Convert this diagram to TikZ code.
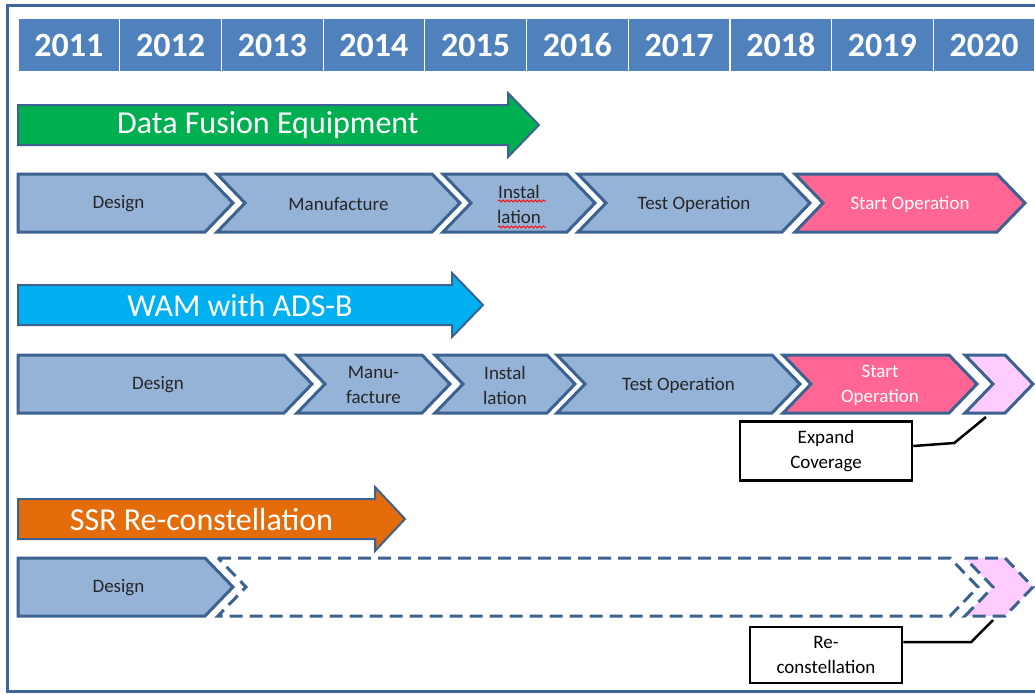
\documentclass[tikz,border=0pt]{standalone}
\usepackage{fontspec}
\setmainfont{Carlito}
\usetikzlibrary{decorations.pathmorphing}
\definecolor{yearblue}{HTML}{4F81BD}
\definecolor{frameblue}{HTML}{3F6596}
\definecolor{edgeblue}{HTML}{3B6290}
\definecolor{phaseblue}{HTML}{95B3D7}
\definecolor{startpink}{HTML}{FF6693}
\definecolor{softpink}{HTML}{FFCCFF}
\definecolor{dfgreen}{HTML}{00B050}
\definecolor{wamcyan}{HTML}{00B0F0}
\definecolor{ssrorange}{HTML}{E46C0A}
\tikzset{>=stealth,
  frame/.style={draw=frameblue, line width=3pt},
  yearcell/.style={fill=yearblue, draw=white, line width=1.2pt, minimum width=101.7pt,
    minimum height=54pt, inner sep=0pt, text=white, font=\fontsize{34}{36}\selectfont\bfseries},
  leadline/.style={draw=edgeblue, line width=2pt, line join=miter},
  leadtext/.style={text=white, inner sep=0pt, font=\fontsize{32}{36}\selectfont},
  stage/.style={fill=phaseblue, draw=edgeblue, line width=3pt, text=black!85},
  startop/.style={fill=startpink, draw=edgeblue, line width=3pt, text=white},
  later/.style={draw=edgeblue, line width=3pt, dash pattern=on 13pt off 7pt},
  extra/.style={fill=softpink, draw=edgeblue, line width=3pt},
  stagetext/.style={align=center, inner sep=0pt, font=\fontsize{19}{25}\selectfont},
  callbox/.style={draw=black, fill=white, line width=2.5pt, align=center, inner sep=0pt,
    font=\fontsize{19}{25}\selectfont},
  callline/.style={draw=black, line width=2.5pt},
  spellmark/.style={draw=red, line width=0.8pt, decorate,
    decoration={snake, amplitude=1.1pt, segment length=4pt}}
}
% #1 style, #2 left x, #3 tip x, #4 middle y, #5 notch depth, #6 name, #7 text
\newcommand{\stagebox}[7]{%
  \begin{scope}[#1]
    \draw[#1] (#2,#4-29) -- (#3-28,#4-29) -- (#3,#4) -- (#3-28,#4+29) -- (#2,#4+29) -- (#2+#5,#4) -- cycle;
    \node[stagetext] (#6) at ({(#2+#5/2+#3-14)/2},#4+1) {#7};
  \end{scope}}
% #1 colour, #2 left x, #3 head x, #4 tip x, #5 middle y, #6 name, #7 text
\newcommand{\leadarrow}[7]{%
  \draw[leadline, fill=#1] (#2,#5-20) -- (#3,#5-20) -- (#3,#5-32) -- (#4,#5) -- (#3,#5+32)
    -- (#3,#5+20) -- (#2,#5+20) -- cycle;
  \node[leadtext] (#6) at ({(#2+#3)/2+5},#5) {#7};}

\begin{document}
\begin{tikzpicture}[x=1pt, y=-1pt]
\path[use as bounding box] (0,0) rectangle (1035,694);
\draw[frame] (1045,5) -- (7,5) -- (7,691) -- (1045,691);

\foreach \yr [count=\i from 0] in {2011,...,2020}
  \node[yearcell] (y\yr) at (18+\i*101.7+50.85,45) {\yr};

\leadarrow{dfgreen}{18}{508}{539}{125}{dfe}{Data Fusion Equipment}
\stagebox{stage}{18}{233}{203}{0}{dfe1}{Design}
\stagebox{stage}{217}{460}{203}{28}{dfe2}{Manufacture}
\stagebox{stage}{443}{595}{203}{28}{dfe3}{Instal\\lation}
\stagebox{stage}{578}{810}{203}{28}{dfe4}{Test Operation}
\stagebox{startop}{795}{1025}{203}{28}{dfe5}{Start Operation}
\draw[spellmark] (498,201) -- (546,201);
\draw[spellmark] (498,227) -- (546,227);

\leadarrow{wamcyan}{18}{452}{483}{305}{wam}{WAM with ADS-B}
\stagebox{stage}{18}{312}{384}{0}{wam1}{Design}
\stagebox{stage}{297}{450}{384}{28}{wam2}{Manu-\\facture}
\stagebox{stage}{435}{575}{384}{28}{wam3}{Instal\\lation}
\stagebox{stage}{557}{800}{384}{28}{wam4}{Test Operation}
\stagebox{startop}{783}{977}{384}{28}{wam5}{Start\\Operation}
\stagebox{extra}{965}{1033}{384}{28}{wam6}{}

\leadarrow{ssrorange}{18}{375}{405}{519}{ssr}{SSR Re-constellation}
\stagebox{stage}{18}{233}{587}{0}{ssr1}{Design}
\stagebox{later}{218}{978}{587}{28}{ssr2}{}
\stagebox{extra,later}{965}{1033}{587}{28}{ssr3}{}

\node[callbox, minimum width=172pt, minimum height=59pt] (ec) at (826,451) {Expand\\Coverage};
\coordinate (ecend) at (986,417);
\draw[callline] ([yshift=5pt]ec.east) -- ++(41,-3) -- (ecend);

\node[callbox, minimum width=152pt, minimum height=56pt] (rc) at (826,655) {Re-\\constellation};
\coordinate (rcend) at (993,620);
\draw[callline] ([yshift=13pt]rc.east) -- ++(68,0) -- (rcend);
\end{tikzpicture}
\end{document}
